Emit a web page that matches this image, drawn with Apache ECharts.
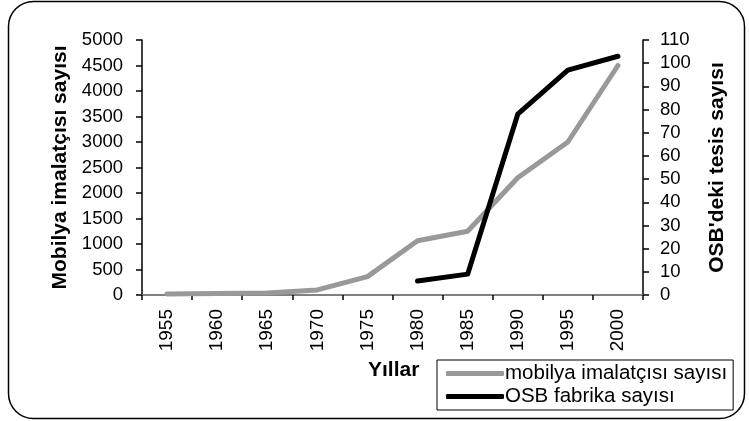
<!DOCTYPE html>
<html>
<head>
<meta charset="utf-8">
<script src="https://cdn.jsdelivr.net/npm/echarts@6/dist/echarts.min.js"></script>
<style>
  html, body { margin: 0; padding: 0; background: #fff; }
  #chart { width: 749px; height: 421px; }
</style>
</head>
<body>
<div id="chart"></div>
<script>
// veriler
const years = ["1955", "1960", "1965", "1970", "1975", "1980", "1985", "1990", "1995", "2000"];
const mobilyaImalatci = [20, 30, 40, 100, 360, 1065, 1250, 2300, 3000, 4500];
const osbFabrika = [null, null, null, null, null, 6, 9, 78, 97, 103];

const FONT = "Liberation Sans, Arial, sans-serif";

let myChart = echarts.init(document.getElementById("chart"));

const option = {
    animation: false,
    backgroundColor: "#fff",
    textStyle: { fontFamily: FONT },
    grid: { left: 142, right: 106, top: 40, bottom: 126, containLabel: false },
    legend: {
        orient: "vertical",
        left: 437,
        top: 360,
        padding: [3, 6, 3, 9],
        itemGap: 2,
        itemWidth: 58,
        itemHeight: 5,
        icon: "roundRect",
        borderColor: "#000",
        borderWidth: 1,
        textStyle: { fontSize: 20.5, color: "#000", fontFamily: FONT, padding: [0, 0, 0, -4] },
        data: ["mobilya imalatçısı sayısı", "OSB fabrika sayısı"]
    },
    xAxis: [
        {
            type: "category",
            data: years,
            boundaryGap: true,
            axisLine: { lineStyle: { color: "#000", width: 1.5 } },
            axisTick: { show: true, length: 5, lineStyle: { color: "#000", width: 1.5 } },
            axisLabel: { rotate: 90, fontSize: 19, color: "#000", margin: 14, fontFamily: FONT }
        },
        {
            // üst gri çizgi
            type: "category",
            data: years,
            position: "top",
            axisLine: { lineStyle: { color: "#808080", width: 2 } },
            axisTick: { show: false },
            axisLabel: { show: false }
        }
    ],
    yAxis: [
        {
            type: "value",
            min: 0,
            max: 5000,
            interval: 500,
            name: "Mobilya imalatçısı sayısı",
            nameLocation: "middle",
            nameGap: 70,
            nameTextStyle: { fontSize: 21, fontWeight: "bold", color: "#000", fontFamily: FONT },
            axisLine: { show: true, lineStyle: { color: "#000", width: 1.5 } },
            axisTick: { show: true, length: 6, lineStyle: { color: "#000", width: 1.5 } },
            axisLabel: { fontSize: 18.5, color: "#000", margin: 19, fontFamily: FONT,
                formatter: function (v) { return String(v); } },
            splitLine: { show: false }
        },
        {
            type: "value",
            min: 0,
            max: 110,
            interval: 10,
            name: "OSB'deki tesis sayısı",
            nameLocation: "middle",
            nameGap: 64,
            nameTextStyle: { fontSize: 21, fontWeight: "bold", color: "#000", fontFamily: FONT },
            axisLine: { show: true, lineStyle: { color: "#000", width: 1.5 } },
            axisTick: { show: true, length: 6, lineStyle: { color: "#000", width: 1.5 } },
            axisLabel: { fontSize: 18.5, color: "#000", margin: 17, fontFamily: FONT,
                formatter: function (v) { return String(v); } },
            splitLine: { show: false }
        }
    ],
    series: [
        {
            name: "mobilya imalatçısı sayısı",
            type: "line",
            data: mobilyaImalatci,
            yAxisIndex: 0,
            showSymbol: false,
            symbol: "none",
            lineStyle: { color: "#999999", width: 5, cap: "round", join: "round" },
            itemStyle: { color: "#999999" }
        },
        {
            name: "OSB fabrika sayısı",
            type: "line",
            data: osbFabrika,
            yAxisIndex: 1,
            showSymbol: false,
            symbol: "none",
            lineStyle: { color: "#000", width: 5, cap: "round", join: "round" },
            itemStyle: { color: "#000" }
        }
    ],
    graphic: [
        {
            type: "rect",
            shape: { x: 8.5, y: 1.5, width: 736, height: 417, r: 25 },
            style: { fill: "none", stroke: "#000", lineWidth: 1.5 },
            silent: true
        },
        {
            type: "text",
            left: 368,
            top: 360,
            style: { text: "Yıllar", font: "bold 21px " + FONT, fill: "#000" }
        }
    ]
};

myChart.setOption(option);
</script>
</body>
</html>
